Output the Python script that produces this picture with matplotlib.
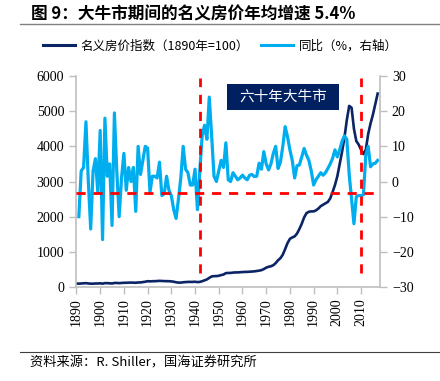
import matplotlib
matplotlib.use('Agg')
import matplotlib.pyplot as plt
from matplotlib.lines import Line2D
from matplotlib.patches import Rectangle

# data
years = list(range(1890, 2018))
index_values = [
    100, 95, 100, 105, 110, 100, 95, 95, 100, 100,
    105, 95, 110, 110, 105, 100, 115, 115, 110, 115,
    120, 120, 125, 125, 125, 120, 130, 130, 140, 150,
    165, 160, 165, 165, 170, 175, 170, 168, 168, 165,
    160, 150, 135, 125, 125, 135, 140, 145, 145, 145,
    150, 140, 145, 165, 190, 215, 260, 300, 310, 310,
    320, 340, 355, 395, 400, 400, 410, 415, 415, 420,
    425, 430, 430, 435, 440, 445, 455, 465, 480, 510,
    550, 575, 590, 620, 680, 760, 820, 920, 1080, 1250,
    1370, 1410, 1440, 1520, 1650, 1800, 1980, 2100, 2140, 2150,
    2150, 2180, 2230, 2300, 2340, 2380, 2420, 2520, 2700, 2900,
    3150, 3500, 3850, 4250, 4750, 5150, 5100, 4500, 4150, 4050,
    3900, 3780, 3900, 4350, 4650, 4900, 5200, 5500,
]

yoy_years = list(range(1891, 2018))
yoy_values = [
    -10, 3, 4, 17, 0, -13.5, 3, 6.5, -3,
    14.5, -16.5, 18, 1.5, 5, -12.5, 19.5, 3, -10, 1,
    8, -2.5, 4, 0, 4, -8.5, 10, 2, 6, 10,
    9.5, -3, 1.5, 1.5, 1, 5.5, -4, -3.5, 1.5, -2.5,
    -4, -8, -10.5, -5, 1, 10, 3.5, 2.5, -1, -1,
    3.5, -8, 3, 13, 16, 12, 24, 13, 1.5, 0,
    3, 6, 4, 11, 0.5, 0, 2.5, 1.5, 0.5, 1,
    1.8, 1, 0.5, 1.8, 2, 1.4, 1.5, 5.2, 3.5, 8.5,
    5, 3.3, 5, 8, 10, 3.7, 5.5, 10, 15.6, 12.7,
    9, 6, 1, 4.5, 4.7, 7, 9.4, 7.5, 6, 3,
    -1, 0.5, 1.5, 2.5, 1.8, 2.5, 3.7, 5, 6.6, 9,
    7, 9, 11.5, 13, 12, 2, -5, -12, -4.3, -4,
    -4, -3.8, 7.5, 10, 4.2, 5, 5.2, 6,
]

bull_start = 1942
bull_end = 2010
ref_level = -3.3  # horizontal dashed line, right axis units

title = '图 9：大牛市期间的名义房价年均增速 5.4%'
legend_labels = ['名义房价指数（1890年=100）', '同比（%，右轴）']
box_text = '六十年大牛市'
source = '资料来源：R. Shiller，国海证券研究所'

navy = '#0B2466'
light = '#00AEEF'
red = '#FF0000'
gray = '#BFBFBF'
cjk = ['Noto Sans CJK SC', 'DejaVu Sans']
serif = 'Liberation Serif'

fig = plt.figure(figsize=(4.4, 3.81), dpi=100)
ax = fig.add_axes([0.1727, 0.2467, 0.691, 0.5538])
ax2 = ax.twinx()

ax.plot(years, index_values, color=navy, lw=1.9, solid_joinstyle='round', zorder=2)
ax2.plot(yoy_years, yoy_values, color=light, lw=2.3, solid_joinstyle='round', zorder=2)

# dashed reference lines (drawn on ax2, on top)
ax2.plot([1889.8, 2018], [ref_level, ref_level], color=red, lw=2, dashes=(3.3, 2.8), zorder=5)
for yr in [bull_start, bull_end]:
    ax2.plot([yr, yr], [-26, 29.5], color=red, lw=2, dashes=(3.3, 2.8), zorder=5)

ax.set_xlim(1889.8, 2018)
ax.set_ylim(0, 6000)
ax2.set_ylim(-30, 30)
ax.set_xticks(range(1890, 2011, 10))
ax.set_yticks(range(0, 6001, 1000))
ax2.set_yticks(range(-30, 31, 10))

for a in (ax, ax2):
    for s in a.spines.values():
        s.set_color(gray)
        s.set_linewidth(1.2)
    a.spines['top'].set_visible(False)
ax.spines['right'].set_visible(False)
ax2.spines['left'].set_visible(False)
ax2.spines['bottom'].set_visible(False)

ax.tick_params(axis='both', direction='out', length=5, width=1, color=gray, labelsize=10)
ax2.tick_params(axis='y', direction='out', length=5, width=1, color=gray, labelsize=10)
ax.tick_params(axis='x', rotation=90, pad=3)
for lab in ax.get_xticklabels() + ax.get_yticklabels() + ax2.get_yticklabels():
    lab.set_fontfamily(serif)

# annotation box
ax2.add_patch(Rectangle((0.497, 0.839), 0.368, 0.123, transform=ax2.transAxes,
                        facecolor='#002060', edgecolor='none', zorder=6))
ax2.text(0.681, 0.90, box_text, transform=ax2.transAxes, ha='center', va='center',
         color='white', fontsize=10.5, family=cjk, zorder=7)

# title, legend, source
fig.text(0.07, 0.963, title, fontsize=12, fontweight='bold', family=cjk, va='center')
fig.add_artist(Line2D([0.045, 1.0], [0.937, 0.937], color='#808080', lw=1))
handles = [Line2D([], [], color=navy, lw=2.2), Line2D([], [], color=light, lw=2.2)]
fig.legend(handles, legend_labels, loc='center', bbox_to_anchor=(0.5, 0.879), ncol=2,
           frameon=False, prop={'family': cjk, 'size': 9}, handlelength=2.6,
           handletextpad=0.4, columnspacing=1.0)
fig.add_artist(Line2D([0.045, 1.0], [0.076, 0.076], color='#404040', lw=0.8))
fig.text(0.068, 0.047, source, fontsize=9.5, family=cjk, va='center')

fig.savefig('out.png', dpi=100)
